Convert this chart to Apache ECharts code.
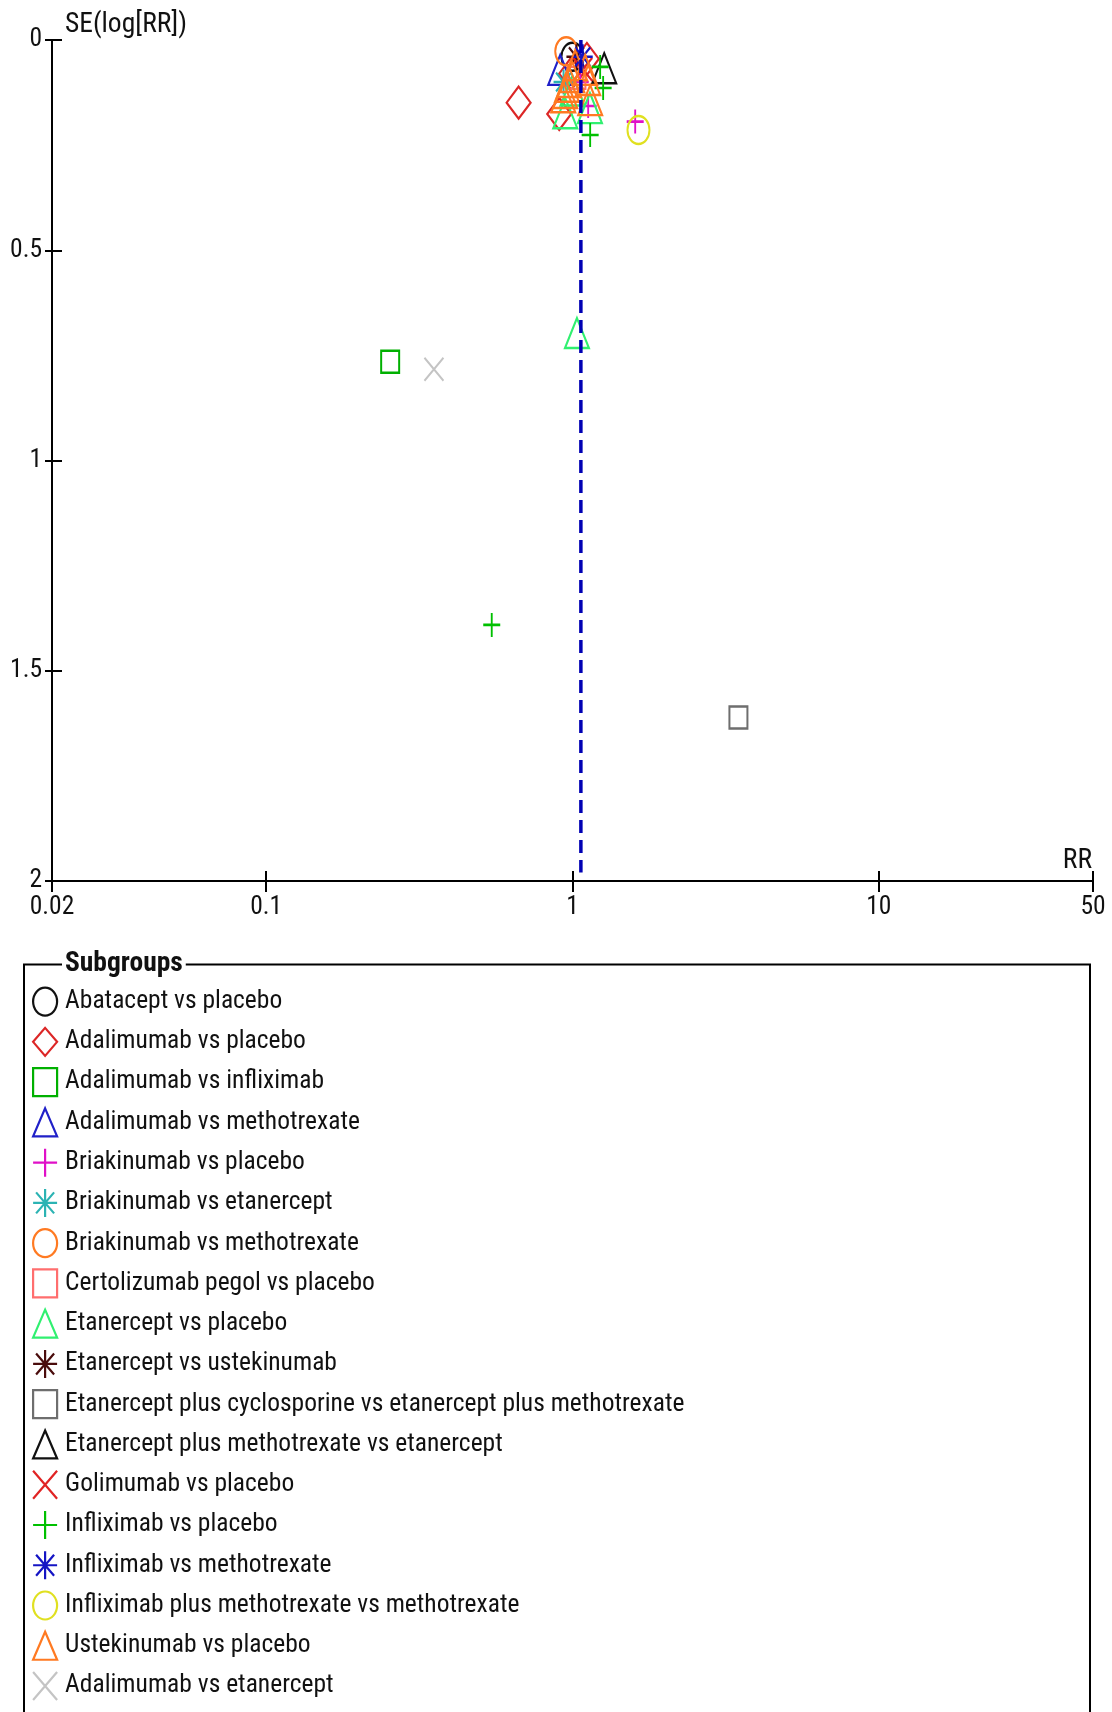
<!DOCTYPE html>
<html>
<head>
<meta charset="utf-8">
<title>Funnel plot</title>
<script src="https://cdn.jsdelivr.net/npm/echarts@6/dist/echarts.min.js"></script>
<style>
  html, body { margin: 0; padding: 0; background: #ffffff; }
  #chart { width: 1112px; height: 1712px; }
</style>
</head>
<body>
<div id="chart"></div>
<script>
// ---- Data: each study is [RR, SE(log RR)] ----
const subgroupNames = [
  'Abatacept vs placebo',
  'Adalimumab vs placebo',
  'Adalimumab vs infliximab',
  'Adalimumab vs methotrexate',
  'Briakinumab vs placebo',
  'Briakinumab vs etanercept',
  'Briakinumab vs methotrexate',
  'Certolizumab pegol vs placebo',
  'Etanercept vs placebo',
  'Etanercept vs ustekinumab',
  'Etanercept plus cyclosporine vs etanercept plus methotrexate',
  'Etanercept plus methotrexate vs etanercept',
  'Golimumab vs placebo',
  'Infliximab vs placebo',
  'Infliximab vs methotrexate',
  'Infliximab plus methotrexate vs methotrexate',
  'Ustekinumab vs placebo',
  'Adalimumab vs etanercept'
];

const abataceptVsPlacebo = [[1.00, 0.040]];
const adalimumabVsPlacebo = [[0.667, 0.149], [0.905, 0.176], [1.114, 0.045], [0.99, 0.080]];
const adalimumabVsInfliximab = [[0.254, 0.765]];
const adalimumabVsMethotrexate = [[0.912, 0.071]];
const briakinumabVsPlacebo = [[1.602, 0.194], [1.125, 0.157], [1.06, 0.100]];
const briakinumabVsEtanercept = [[0.935, 0.100]];
const briakinumabVsMethotrexate = [[0.954, 0.027]];
const certolizumabVsPlacebo = [[1.03, 0.090]];
const etanerceptVsPlacebo = [[0.947, 0.174], [1.14, 0.162], [1.034, 0.697], [1.00, 0.120]];
const etanerceptVsUstekinumab = [[1.03, 0.040]];
const etanerceptCycloVsEtanerceptMtx = [[3.48, 1.611]];
const etanerceptMtxVsEtanercept = [[1.269, 0.067]];
const golimumabVsPlacebo = [[1.08, 0.070]];
const infliximabVsPlacebo = [[1.231, 0.064], [1.259, 0.114], [1.142, 0.226], [0.545, 1.391]];
const infliximabVsMethotrexate = [[1.08, 0.040]];
const infliximabMtxVsMethotrexate = [[1.642, 0.214]];
const ustekinumabVsPlacebo = [[0.959, 0.111], [0.933, 0.136], [0.998, 0.088], [1.10, 0.071], [1.125, 0.095], [0.947, 0.126], [1.142, 0.143], [1.02, 0.060], [0.975, 0.100]];
const adalimumabVsEtanercept = [[0.353, 0.783]];

const subgroupData = [
  abataceptVsPlacebo, adalimumabVsPlacebo, adalimumabVsInfliximab, adalimumabVsMethotrexate,
  briakinumabVsPlacebo, briakinumabVsEtanercept, briakinumabVsMethotrexate, certolizumabVsPlacebo,
  etanerceptVsPlacebo, etanerceptVsUstekinumab, etanerceptCycloVsEtanerceptMtx, etanerceptMtxVsEtanercept,
  golimumabVsPlacebo, infliximabVsPlacebo, infliximabVsMethotrexate, infliximabMtxVsMethotrexate,
  ustekinumabVsPlacebo, adalimumabVsEtanercept
];

const pooledRR = 1.065;          // overall estimate (vertical reference line)
const pooledSeSpan = [0, 1.98];
const xTickLabels = ['0.02', '0.1', '1', '10', '50'];
const yTickLabels = ['0', '0.5', '1', '1.5', '2'];

// ---- Marker styles ----
const FONT = "'Roboto Condensed', 'Liberation Sans', Arial, sans-serif";
const FS = 25.5;
const TITLE_FS = 27.5;
const ELLIPSE = 'path://M0,10C0,4.477 4.477,0 10,0C15.523,0 20,4.477 20,10C20,15.523 15.523,20 10,20C4.477,20 0,15.523 0,10Z';
const PLUS = 'path://M10,0L10,20M0,10L20,10';
const CROSS = 'path://M0,0L20,20M20,0L0,20';
const STAR = 'path://M10,0L10,20M0,10L20,10M2.5,2.5L17.5,17.5M17.5,2.5L2.5,17.5';

const shapes = {
  circle:   { symbol: ELLIPSE,    size: [22, 28] },
  diamond:  { symbol: 'diamond',  size: [24, 32] },
  square:   { symbol: 'rect',     size: [18, 22] },
  triangle: { symbol: 'triangle', size: [24, 30] },
  plus:     { symbol: PLUS,       size: [17, 24] },
  star:     { symbol: STAR,       size: [20, 25] },
  cross:    { symbol: CROSS,      size: [19, 23] }
};

const subgroupStyles = [
  ['circle',   '#111111'],
  ['diamond',  '#DC2626'],
  ['square',   '#00B000'],
  ['triangle', '#2020C8'],
  ['plus',     '#E010C8'],
  ['star',     '#2BB3B3'],
  ['circle',   '#FF7A22'],
  ['square',   '#FF6E6E'],
  ['triangle', '#30F070'],
  ['star',     '#4A0C0C'],
  ['square',   '#6E6E6E'],
  ['triangle', '#111111'],
  ['cross',    '#E02424'],
  ['plus',     '#00C000'],
  ['star',     '#1414C4'],
  ['circle',   '#E0E020'],
  ['triangle', '#FF7A22'],
  ['cross',    '#C4C4C4']
];

const log10 = v => Math.log10(v);
const xMin = log10(parseFloat(xTickLabels[0]));
const xMax = log10(parseFloat(xTickLabels[xTickLabels.length - 1]));
const xTickValues = xTickLabels.map(t => log10(parseFloat(t)));
const labelFor = v => {
  const i = xTickValues.findIndex(t => Math.abs(t - v) < 1e-6);
  return i >= 0 ? xTickLabels[i] : '';
};

const axisText = { color: '#111', fontFamily: FONT, fontSize: FS };

const series = subgroupNames.map((name, i) => {
  const [shapeKey, color] = subgroupStyles[i];
  const shape = shapes[shapeKey];
  return {
    name,
    type: 'scatter',
    symbol: shape.symbol,
    symbolSize: shape.size,
    symbolKeepAspect: false,
    itemStyle: { color: 'rgba(0,0,0,0)', borderColor: color, borderWidth: 2.2, opacity: 1 },
    emphasis: { disabled: true },
    data: subgroupData[i].map(([rr, se]) => [log10(rr), se]),
    z: 3
  };
});

series.push({
  name: 'pooled',
  type: 'line',
  symbol: 'none',
  silent: true,
  data: pooledSeSpan.map(se => [log10(pooledRR), se]),
  lineStyle: { color: '#0000B4', width: 3.5, type: [13, 7] },
  z: 5
});

const xAxisBase = {
  type: 'value', min: xMin, max: xMax, position: 'bottom',
  splitLine: { show: false }
};
const yAxisBase = {
  type: 'value', min: 0, max: 2, interval: 0.5, inverse: true, position: 'left',
  splitLine: { show: false }
};

const option = {
  animation: false,
  backgroundColor: '#ffffff',
  grid: { left: 52, right: 19, top: 40, bottom: 831, containLabel: false, outerBoundsMode: 'none' },
  xAxis: [
    Object.assign({}, xAxisBase, {
      axisLine: { onZero: false, lineStyle: { color: '#000', width: 2 } },
      axisTick: { customValues: xTickValues, length: 11, lineStyle: { color: '#000', width: 2 } },
      axisLabel: Object.assign({ customValues: xTickValues, margin: 14, formatter: v => labelFor(v) }, axisText)
    }),
    Object.assign({}, xAxisBase, {
      axisLine: { show: false, onZero: false },
      axisTick: { customValues: xTickValues, inside: true, length: 10, lineStyle: { color: '#000', width: 2 } },
      axisLabel: { show: false }
    })
  ],
  yAxis: [
    Object.assign({}, yAxisBase, {
      axisLine: { onZero: false, lineStyle: { color: '#000', width: 2 } },
      axisTick: { length: 7, lineStyle: { color: '#000', width: 2 } },
      axisLabel: Object.assign({ margin: 10, formatter: v => yTickLabels[Math.round(v * 2)] }, axisText)
    }),
    Object.assign({}, yAxisBase, {
      axisLine: { show: false, onZero: false },
      axisTick: { inside: true, length: 10, lineStyle: { color: '#000', width: 2 } },
      axisLabel: { show: false }
    })
  ],
  legend: {
    data: subgroupNames,
    orient: 'vertical',
    left: 32,
    top: 986.5,
    height: 780,
    padding: 0,
    itemWidth: 24,
    itemHeight: 28,
    itemGap: 10.06,
    symbolKeepAspect: false,
    selectedMode: false,
    itemStyle: { borderWidth: 2.2 },
    textStyle: { color: '#111', fontFamily: FONT, fontSize: FS, lineHeight: 28, padding: [0, 0, 0, 3] }
  },
  graphic: [
    {
      type: 'rect', silent: true,
      shape: { x: 24, y: 964.5, width: 1066, height: 900 },
      style: { fill: 'none', stroke: '#000', lineWidth: 2 }
    },
    {
      type: 'text', silent: true, x: 62, y: 964,
      style: {
        text: 'Subgroups', fill: '#111', font: "bold " + TITLE_FS + "px " + FONT,
        verticalAlign: 'middle', backgroundColor: '#fff', padding: [0, 3]
      }
    },
    {
      type: 'text', silent: true, x: 65, y: 25,
      style: { text: 'SE(log[RR])', fill: '#111', font: TITLE_FS + "px " + FONT, verticalAlign: 'middle' }
    },
    {
      type: 'text', silent: true, x: 1092, y: 861,
      style: { text: 'RR', fill: '#111', font: TITLE_FS + "px " + FONT, verticalAlign: 'middle', align: 'right' }
    }
  ],
  series
};

const chart = echarts.init(document.getElementById('chart'), null, { renderer: 'canvas' });
chart.setOption(option);
</script>
</body>
</html>
